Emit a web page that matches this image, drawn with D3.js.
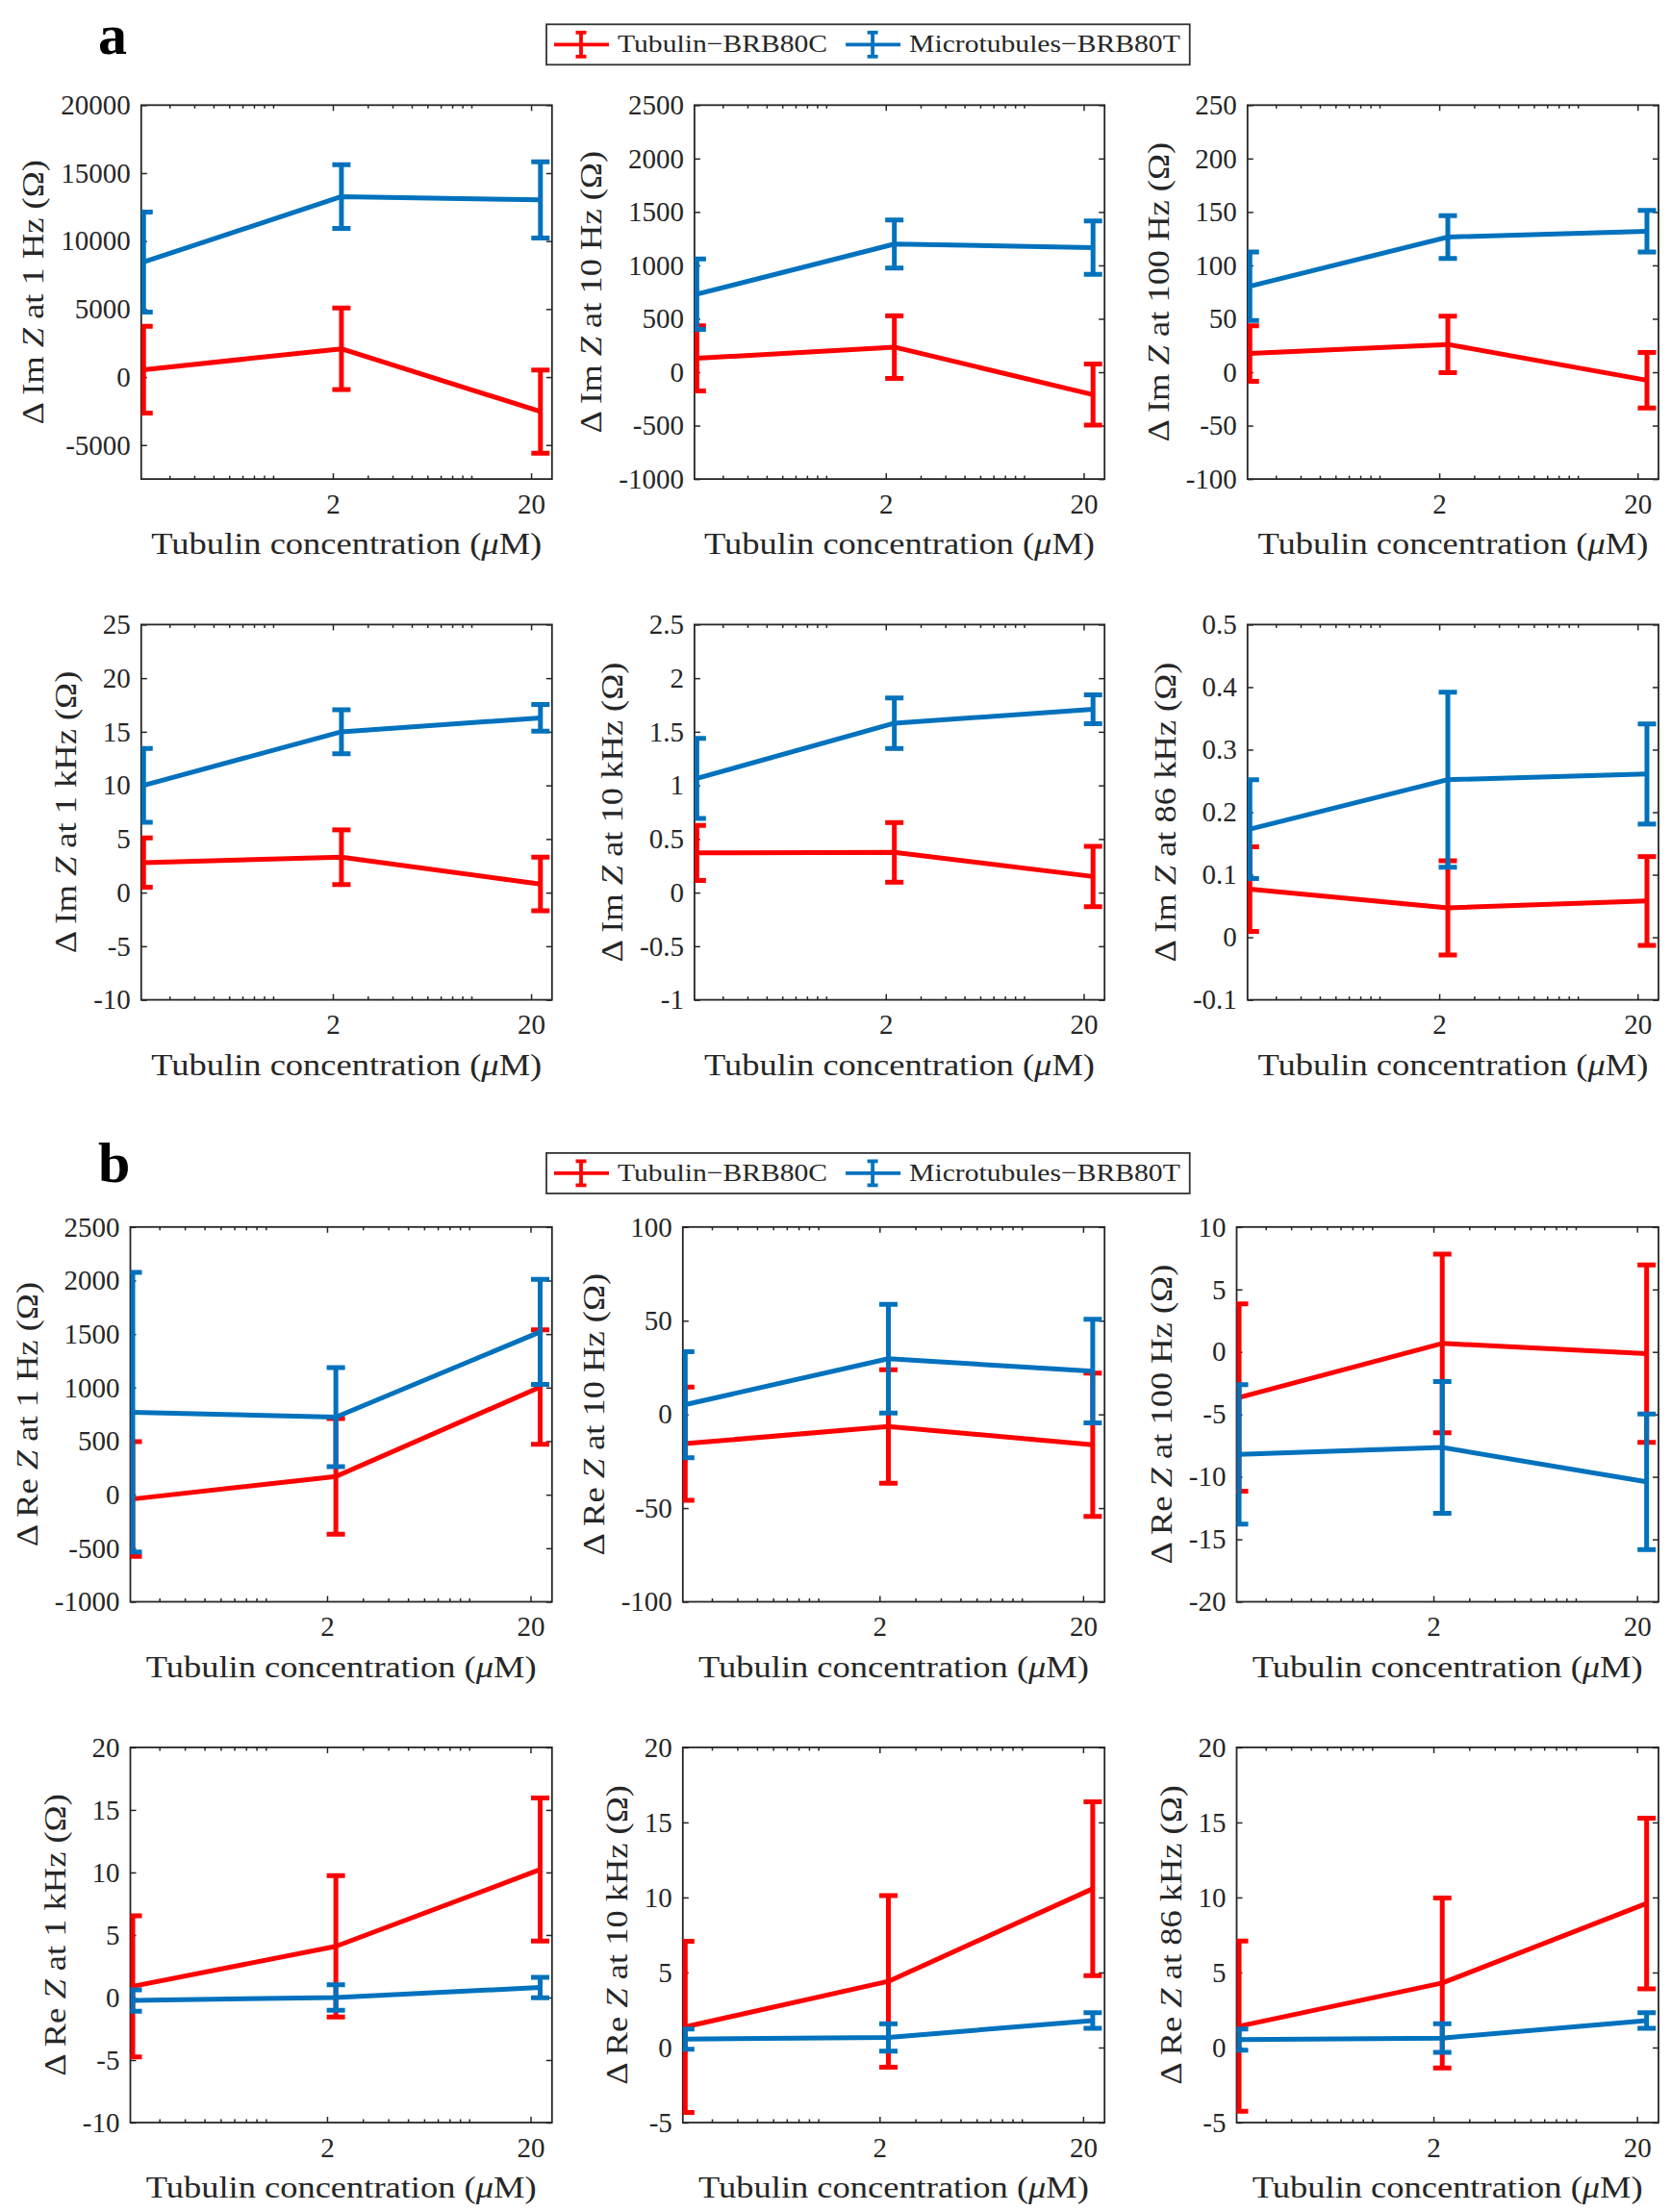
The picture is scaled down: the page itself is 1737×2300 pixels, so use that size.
<!DOCTYPE html>
<html>
<head>
<meta charset="utf-8">
<script src="https://cdn.jsdelivr.net/npm/d3@7"></script>
<style>
  body { margin: 0; background: #fff; }
  text { font-family: "Liberation Serif", "Times New Roman", serif; fill: #262626; }
</style>
</head>
<body>
<svg id="fig" width="1737" height="2300"></svg>
<script>
// ---- data ----
var CONC = [0.222, 2.21, 22.3];          // tubulin concentration (uM), plotted on log axis
var X_TICKS = [2, 20];
var X_MINOR = [0.3, 0.4, 0.5, 0.6, 0.7, 0.8, 0.9, 1, 3, 4, 5, 6, 7, 8, 9, 10];
var SERIES_NAMES = ["Tubulin\u2212BRB80C", "Microtubules\u2212BRB80T"];
var FREQS = ["1 Hz", "10 Hz", "100 Hz", "1 kHz", "10 kHz", "86 kHz"];

// panel a : delta Im Z
var IM_TUB = [[540, 2080, -2540], [130, 235, -210], [17.5, 26, -7.5], [2.8, 3.3, 0.8], [0.37, 0.375, 0.15], [0.077, 0.047, 0.058]];
var IM_TUB_ERR = [[3190, 3000, 3060], [305, 293, 286], [26, 26.5, 26], [2.3, 2.55, 2.5], [0.256, 0.278, 0.281], [0.0675, 0.0755, 0.071]];
var IM_MT = [[8460, 13270, 13030], [730, 1200, 1165], [80.5, 126.5, 132], [10, 15, 16.3], [1.065, 1.58, 1.71], [0.173, 0.252, 0.261]];
var IM_MT_ERR = [[3680, 2340, 2800], [330, 225, 250], [32, 20, 19.5], [3.45, 2.05, 1.25], [0.374, 0.236, 0.134], [0.079, 0.14, 0.08]];
var IM_YLIM = [[-7500, 20000], [-1000, 2500], [-100, 250], [-10, 25], [-1, 2.5], [-0.1, 0.5]];
var IM_YTICKS = [
  [-5000, 0, 5000, 10000, 15000, 20000],
  [-1000, -500, 0, 500, 1000, 1500, 2000, 2500],
  [-100, -50, 0, 50, 100, 150, 200, 250],
  [-10, -5, 0, 5, 10, 15, 20, 25],
  [-1, -0.5, 0, 0.5, 1, 1.5, 2, 2.5],
  [-0.1, 0, 0.1, 0.2, 0.3, 0.4, 0.5]
];

// panel b : delta Re Z
var RE_TUB = [[-40, 170, 1005], [-15.6, -6.5, -16.2], [-3.65, 0.68, -0.14], [0.89, 4.09, 10.23], [1.38, 4.41, 10.58], [1.42, 4.3, 9.6]];
var RE_TUB_ERR = [[535, 540, 534], [30.2, 30.3, 38.2], [7.5, 7.15, 7.1], [5.64, 5.65, 5.72], [5.7, 5.72, 5.79], [5.67, 5.67, 5.69]];
var RE_MT = [[770, 725, 1520], [5.2, 29.7, 23.1], [-8.2, -7.65, -10.4], [-0.24, 0.0, 0.8], [0.56, 0.67, 1.8], [0.53, 0.63, 1.8]];
var RE_MT_ERR = [[1305, 463, 491], [28.3, 29, 27.6], [5.58, 5.27, 5.43], [0.86, 1.02, 0.82], [0.68, 0.91, 0.52], [0.7, 0.95, 0.52]];
var RE_YLIM = [[-1000, 2500], [-100, 100], [-20, 10], [-10, 20], [-5, 20], [-5, 20]];
var RE_YTICKS = [
  [-1000, -500, 0, 500, 1000, 1500, 2000, 2500],
  [-100, -50, 0, 50, 100],
  [-20, -15, -10, -5, 0, 5, 10],
  [-10, -5, 0, 5, 10, 15, 20],
  [-5, 0, 5, 10, 15, 20],
  [-5, 0, 5, 10, 15, 20]
];

// ---- layout ----
var COLORS = ["#ff0000", "#0072bd"];
var X_DOMAIN = [0.216, 25.5];
var ROW_TOP = [109.3, 649.4, 1275.8, 1816.9];
var ROW_BOTTOM = [498.1, 1039.6, 1665.5, 2207];
var COL_RIGHT = [573.8, 1148.2, 1724];
var COL_LEFT_A = [146.8, 721.9, 1296.8];
var COL_LEFT_B = [135.5, 709.8, 1285.5];
var STRETCH = 1.14;
var LW = 5;

var svg = d3.select("#fig");

function yLabelParts(kind, freq) {
  return [["\u0394 " + kind + " ", false], ["Z", true], [" at " + freq + " (\u03a9)", false]];
}

function drawPanel(idx, left, right, top, bottom, ylim, yticks, tub, tubErr, mt, mtErr, parts) {
  var g = svg.append("g");
  var x = d3.scaleLog().domain(X_DOMAIN).range([left, right]);
  var y = d3.scaleLinear().domain(ylim).range([bottom, top]);

  g.append("clipPath").attr("id", "clip" + idx)
    .append("rect").attr("x", left).attr("y", top)
    .attr("width", right - left).attr("height", bottom - top);

  function styleAxis(a) {
    a.attr("font-family", "Liberation Serif, serif").attr("font-size", 29).attr("color", "#262626");
    a.select(".domain").remove();
    a.selectAll("line").attr("stroke-width", 1.5);
  }

  var yl = g.append("g").attr("transform", "translate(" + left + ",0)")
    .call(d3.axisLeft(y).tickValues(yticks).tickSize(-6).tickPadding(11).tickFormat(function (d) { return String(d); }));
  styleAxis(yl);
  var yr = g.append("g").attr("transform", "translate(" + right + ",0)")
    .call(d3.axisRight(y).tickValues(yticks).tickSize(-6).tickFormat(""));
  styleAxis(yr);

  var xb = g.append("g").attr("transform", "translate(0," + bottom + ")")
    .call(d3.axisBottom(x).tickValues(X_TICKS).tickSize(-6).tickPadding(15).tickFormat(function (d) { return String(d); }));
  styleAxis(xb);
  var xbm = g.append("g").attr("transform", "translate(0," + bottom + ")")
    .call(d3.axisBottom(x).tickValues(X_MINOR).tickSize(-3.5).tickFormat(""));
  styleAxis(xbm);
  var xt = g.append("g").attr("transform", "translate(0," + top + ")")
    .call(d3.axisTop(x).tickValues(X_TICKS).tickSize(-6).tickFormat(""));
  styleAxis(xt);
  var xtm = g.append("g").attr("transform", "translate(0," + top + ")")
    .call(d3.axisTop(x).tickValues(X_MINOR).tickSize(-3.5).tickFormat(""));
  styleAxis(xtm);

  g.append("rect").attr("x", left).attr("y", top)
    .attr("width", right - left).attr("height", bottom - top)
    .attr("fill", "none").attr("stroke", "#262626").attr("stroke-width", 1.8);

  // data
  var plot = g.append("g").attr("clip-path", "url(#clip" + idx + ")");
  var series = [[tub, tubErr], [mt, mtErr]];
  series.forEach(function (s, si) {
    var pts = CONC.map(function (c, i) { return { c: c, v: s[0][i], e: s[1][i] }; });
    var col = COLORS[si];
    plot.append("path").datum(pts)
      .attr("fill", "none").attr("stroke", col).attr("stroke-width", LW)
      .attr("stroke-linejoin", "round")
      .attr("d", d3.line().x(function (d) { return x(d.c); }).y(function (d) { return y(d.v); }));
    var eb = plot.selectAll(".eb" + si).data(pts).enter().append("g")
      .attr("stroke", col).attr("stroke-width", LW);
    eb.append("line")
      .attr("x1", function (d) { return x(d.c); }).attr("x2", function (d) { return x(d.c); })
      .attr("y1", function (d) { return y(d.v - d.e); }).attr("y2", function (d) { return y(d.v + d.e); });
    [-1, 1].forEach(function (sign) {
      eb.append("line")
        .attr("x1", function (d) { return x(d.c) - 9.5; }).attr("x2", function (d) { return x(d.c) + 9.5; })
        .attr("y1", function (d) { return y(d.v + sign * d.e); }).attr("y2", function (d) { return y(d.v + sign * d.e); });
    });
  });

  // x label
  var cx = (left + right) / 2;
  var xlab = g.append("text").attr("text-anchor", "middle").attr("font-size", 32)
    .attr("transform", "translate(" + cx + "," + (bottom + 78) + ") scale(" + STRETCH + ",1)");
  xlab.append("tspan").text("Tubulin concentration (");
  xlab.append("tspan").attr("font-style", "italic").text("\u03bc");
  xlab.append("tspan").text("M)");

  // y label
  var maxW = 0;
  yl.selectAll("text").each(function () { maxW = Math.max(maxW, this.getBBox().width); });
  var lx = left - 11 - maxW - 18;
  var ylab = g.append("text").attr("text-anchor", "middle").attr("font-size", 32)
    .attr("transform", "translate(" + lx + "," + ((top + bottom) / 2) + ") rotate(-90) scale(" + STRETCH + ",1)");
  parts.forEach(function (p) {
    ylab.append("tspan").attr("font-style", p[1] ? "italic" : "normal").text(p[0]);
  });
}

function drawLegend(yc) {
  var g = svg.append("g");
  var left = 568;
  var box = g.append("rect").attr("x", left).attr("y", yc - 21).attr("height", 42)
    .attr("fill", "#fff").attr("stroke", "#333").attr("stroke-width", 1.8);
  var cursor = left + 8;
  SERIES_NAMES.forEach(function (name, i) {
    var col = COLORS[i];
    var mid = cursor + 28;
    g.append("line").attr("x1", cursor).attr("x2", cursor + 57).attr("y1", yc).attr("y2", yc)
      .attr("stroke", col).attr("stroke-width", 3.8);
    g.append("line").attr("x1", mid).attr("x2", mid).attr("y1", yc - 12.5).attr("y2", yc + 12.5)
      .attr("stroke", col).attr("stroke-width", 3.8);
    [-12.5, 12.5].forEach(function (dy) {
      g.append("line").attr("x1", mid - 5.5).attr("x2", mid + 5.5).attr("y1", yc + dy).attr("y2", yc + dy)
        .attr("stroke", col).attr("stroke-width", 3.8);
    });
    var tx = cursor + 66;
    var t = g.append("text").attr("font-size", 26)
      .attr("transform", "translate(" + tx + "," + (yc + 8) + ") scale(" + STRETCH + ",1)")
      .text(name);
    var w = t.node().getComputedTextLength() * STRETCH;
    cursor = tx + w + 19;
  });
  box.attr("width", cursor - 19 + 10 - left);
}

function drawGroup(rowOffset, lefts, kind, tubs, tubErrs, mts, mtErrs, ylims, yticks, letter, letterY, legendY) {
  for (var k = 0; k < 6; k++) {
    var r = rowOffset + Math.floor(k / 3), c = k % 3;
    drawPanel(rowOffset * 3 + k, lefts[c], COL_RIGHT[c], ROW_TOP[r], ROW_BOTTOM[r],
      ylims[k], yticks[k], tubs[k], tubErrs[k], mts[k], mtErrs[k], yLabelParts(kind, FREQS[k]));
  }
  svg.append("text").attr("x", 102).attr("y", letterY)
    .attr("font-family", "Liberation Sans, Arial, sans-serif").attr("font-weight", "bold")
    .attr("font-size", 60).style("fill", "#000").text(letter);
  drawLegend(legendY);
}

drawGroup(0, COL_LEFT_A, "Im", IM_TUB, IM_TUB_ERR, IM_MT, IM_MT_ERR, IM_YLIM, IM_YTICKS, "a", 56, 46.3);
drawGroup(2, COL_LEFT_B, "Re", RE_TUB, RE_TUB_ERR, RE_MT, RE_MT_ERR, RE_YLIM, RE_YTICKS, "b", 1228.5, 1219.9);
</script>
</body>
</html>
